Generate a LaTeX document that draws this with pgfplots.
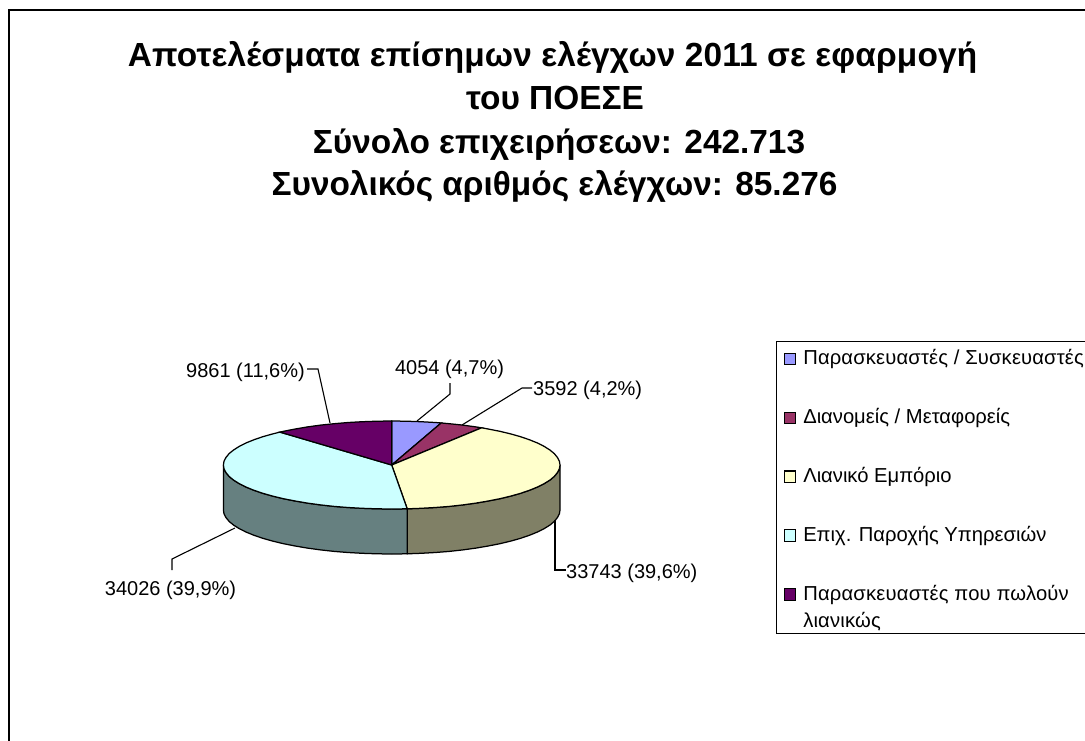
\documentclass[border=0pt]{standalone}
\usepackage{pgfplots}
\pgfplotsset{compat=1.18}
\usepackage{fontspec}
\setmainfont{Liberation Sans}
\definecolor{sa}{HTML}{9999FF}
\definecolor{sb}{HTML}{993366}
\definecolor{sc}{HTML}{FFFFCC}
\definecolor{sd}{HTML}{CCFFFF}
\definecolor{se}{HTML}{660066}
\definecolor{wc}{HTML}{808066}
\definecolor{wd}{HTML}{668080}
\begin{document}
\begin{tikzpicture}
\path[use as bounding box] (0,0) rectangle (1085pt,740pt);
\clip (0,0) rectangle (1085pt,740pt);
\begin{axis}[
  at={(0pt,0pt)},anchor=south west,
  scale only axis,width=1085pt,height=740pt,
  xmin=0,xmax=1085,ymin=0,ymax=740,y dir=reverse,
  hide axis,clip=false,
  legend style={at={(axis cs:776,341)},anchor=north west,draw=black,line width=1.3pt,
    font=\fontsize{20.2}{27}\selectfont,cells={anchor=base west},row sep=39.4pt,
    nodes={inner sep=0pt,text depth=},
    inner xsep=7pt,inner ysep=8pt,column sep=7pt},
  legend image code/.code={\draw[#1,draw=black,line width=1.1pt] (0pt,0pt) rectangle (11.5pt,11.5pt);},
  every axis plot/.append style={line width=1.25pt,draw=black},
]
% frame
\addplot[forget plot,line width=1.8pt,mark=none] coordinates {(9,745)(9,10)(1090,10)};
% side walls
\addplot[forget plot,fill=wc] coordinates {(560.0,465.0)(559.4,468.8)(557.4,472.6)(554.3,476.4)(549.9,480.1)(544.2,483.6)(537.5,487.0)(529.6,490.2)(520.6,493.3)(510.7,496.1)(499.9,498.7)(488.2,501.0)(475.9,503.1)(462.8,504.9)(449.3,506.4)(435.3,507.5)(420.9,508.3)(407.2,508.8)(407.2,553.8)(420.9,553.3)(435.3,552.5)(449.3,551.4)(462.8,549.9)(475.9,548.1)(488.2,546.0)(499.9,543.7)(510.7,541.1)(520.6,538.3)(529.6,535.2)(537.5,532.0)(544.2,528.6)(549.9,525.1)(554.3,521.4)(557.4,517.6)(559.4,513.8)(560.0,510.0)} --cycle;
\addplot[forget plot,fill=wd] coordinates {(407.2,508.8)(391.7,509.0)(377.0,508.8)(362.5,508.3)(348.1,507.5)(334.1,506.4)(320.6,504.9)(307.5,503.1)(295.2,501.0)(283.5,498.7)(272.7,496.1)(262.8,493.3)(253.8,490.2)(245.9,487.0)(239.2,483.6)(233.6,480.1)(229.1,476.4)(226.0,472.6)(224.0,468.8)(223.4,465.0)(223.4,510.0)(224.0,513.8)(226.0,517.6)(229.1,521.4)(233.6,525.1)(239.2,528.6)(245.9,532.0)(253.8,535.2)(262.8,538.3)(272.7,541.1)(283.5,543.7)(295.2,546.0)(307.5,548.1)(320.6,549.9)(334.1,551.4)(348.1,552.5)(362.5,553.3)(377.0,553.8)(391.7,554.0)(407.2,553.8)} --cycle;
% top slices
\addplot[fill=sa] coordinates {(391.7,465)(391.7,421.0)(406.4,421.2)(420.9,421.7)(435.3,422.5)(441.2,422.95)} --cycle;
\addlegendentry{\parbox[t]{330pt}{\addfontfeature{LetterSpace=0.8}Παρασκευαστές / Συσκευαστές}}
\addplot[fill=sb] coordinates {(391.7,465)(441.2,422.95)(449.3,423.7)(462.8,425.1)(475.9,426.9)(481.6,427.8)} --cycle;
\addlegendentry{Διανομείς / Μεταφορείς}
\addplot[fill=sc] coordinates {(391.7,465)(481.6,427.8)(488.2,429.0)(499.9,431.3)(510.7,433.9)(520.6,436.7)(529.6,439.8)(537.5,443.0)(544.2,446.4)(549.9,450.0)(554.3,453.6)(557.4,457.4)(559.4,461.2)(560.0,465.0)(559.4,468.8)(557.4,472.6)(554.3,476.4)(549.9,480.1)(544.2,483.6)(537.5,487.0)(529.6,490.2)(520.6,493.3)(510.7,496.1)(499.9,498.7)(488.2,501.0)(475.9,503.1)(462.8,504.9)(449.3,506.4)(435.3,507.5)(420.9,508.3)(407.2,508.8)} --cycle;
\addlegendentry{Λιανικό Εμπόριο}
\addplot[fill=sd] coordinates {(391.7,465)(407.2,508.8)(391.7,509.0)(377.0,508.8)(362.5,508.3)(348.1,507.5)(334.1,506.4)(320.6,504.9)(307.5,503.1)(295.2,501.0)(283.5,498.7)(272.7,496.1)(262.8,493.3)(253.8,490.2)(245.9,487.0)(239.2,483.6)(233.6,480.1)(229.1,476.4)(226.0,472.6)(224.0,468.8)(223.4,465.0)(224.0,461.2)(226.0,457.4)(229.1,453.6)(233.6,450.0)(239.2,446.4)(245.9,443.0)(253.8,439.8)(262.8,436.7)(272.7,433.9)(279.9,432.1)} --cycle;
\addlegendentry{Επιχ. Παροχής Υπηρεσιών}
\addplot[fill=se] coordinates {(391.7,465)(279.9,432.1)(283.5,431.3)(295.2,429.0)(307.5,426.9)(320.6,425.1)(334.1,423.7)(348.1,422.5)(362.5,421.7)(377.0,421.2)(391.7,421.0)} --cycle;
\addlegendentry{\parbox[t]{330pt}{\addfontfeature{LetterSpace=1}Παρασκευαστές που πωλούν\\λιανικώς\vspace{-5pt}}}
% leader lines
\addplot[forget plot,mark=none,line width=1.1pt] coordinates {(307,369)(318,369)(330,423)};
\addplot[forget plot,mark=none,line width=1.1pt] coordinates {(450,383)(450,394)(417,421)};
\addplot[forget plot,mark=none,line width=1.1pt] coordinates {(532,388)(522,388)(462,425)};
\addplot[forget plot,mark=none,line width=1.1pt] coordinates {(555,520)(555,570)(566,570)};
\addplot[forget plot,mark=none,line width=1.1pt] coordinates {(235,528)(172,559)(172,570)};
% data labels
\node[anchor=base east,font=\fontsize{20}{22}\selectfont,inner sep=0pt] at (axis cs:305,377.5) {9861 (11,6\%)};
\node[anchor=base,font=\fontsize{20}{22}\selectfont,inner sep=0pt] at (axis cs:449.5,374.5) {4054 (4,7\%)};
\node[anchor=base west,font=\fontsize{20}{22}\selectfont,inner sep=0pt] at (axis cs:533,395.5) {3592 (4,2\%)};
\node[anchor=base west,font=\fontsize{20}{22}\selectfont,inner sep=0pt] at (axis cs:566,578) {33743 (39,6\%)};
\node[anchor=base,font=\fontsize{20}{22}\selectfont,inner sep=0pt] at (axis cs:170.5,595) {34026 (39,9\%)};
% title
\node[anchor=base,font=\bfseries\fontsize{33.4}{36}\selectfont\addfontfeature{LetterSpace=0.4},inner sep=0pt] at (axis cs:552.5,66) {Αποτελέσματα επίσημων ελέγχων 2011 σε εφαρμογή};
\node[anchor=base,font=\bfseries\fontsize{33.4}{36}\selectfont,inner sep=0pt] at (axis cs:555,109) {του ΠΟΕΣΕ};
\node[anchor=base,font=\bfseries\fontsize{33.4}{36}\selectfont,inner sep=0pt] at (axis cs:559,153) {Σύνολο επιχειρήσεων: 242.713};
\node[anchor=base,font=\bfseries\fontsize{33.4}{36}\selectfont,inner sep=0pt] at (axis cs:554.5,195.5) {Συνολικός αριθμός ελέγχων: 85.276};
\end{axis}
\end{tikzpicture}
\end{document}
